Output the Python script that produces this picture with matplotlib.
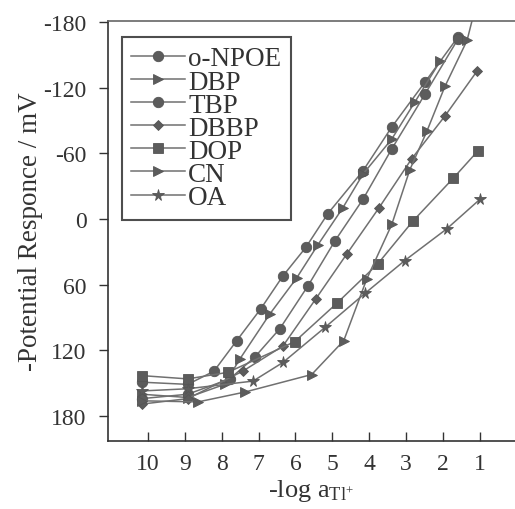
import matplotlib
matplotlib.use("Agg")
import matplotlib.pyplot as plt

plt.rcParams['font.family'] = ['Liberation Serif', 'DejaVu Serif']
plt.rcParams['mathtext.fontset'] = 'custom'
plt.rcParams['mathtext.rm'] = 'Liberation Serif'
plt.rcParams['mathtext.it'] = 'Liberation Serif:italic'
plt.rcParams['axes.unicode_minus'] = False

labels = ["o-NPOE", "DBP", "TBP", "DBBP", "DOP", "CN", "OA"]

x_onpoe = [10.16, 8.92, 8.21, 7.59, 6.94, 6.34, 5.72, 5.12, 4.17, 3.39, 2.49, 1.60]
y_onpoe = [149, 151, 139, 111, 82, 52, 26, -5, -44, -84, -125, -166]

x_dbp = [10.16, 8.92, 7.92, 7.51, 6.70, 5.97, 5.40, 4.72, 4.17, 3.39, 2.76, 2.08]
y_dbp = [160, 163, 151, 128, 87, 54, 24, -10, -41, -73, -107, -144]

x_tbp = [10.16, 8.92, 7.78, 7.10, 6.42, 5.66, 4.93, 4.17, 3.39, 2.49, 1.60]
y_tbp = [164, 160, 146, 126, 100, 61, 20, -18, -64, -114, -164]

x_dbbp = [10.16, 8.92, 7.43, 6.34, 5.45, 4.61, 3.74, 2.85, 1.95, 1.08]
y_dbbp = [169, 164, 139, 116, 73, 32, -10, -55, -94, -135]

x_dop = [10.16, 8.92, 7.83, 6.02, 4.88, 3.77, 2.82, 1.73, 1.06]
y_dop = [143, 146, 140, 112, 77, 41, 2, -37, -62]

x_cn = [10.16, 8.64, 7.37, 5.56, 4.69, 4.07, 3.39, 2.90, 2.44, 1.95, 1.35, 1.17]
y_cn = [166, 167, 158, 142, 111, 55, 5, -45, -80, -121, -163, -187]

x_oa = [10.16, 8.92, 7.15, 6.34, 5.20, 4.12, 3.04, 1.90, 1.00]
y_oa = [157, 155, 148, 131, 99, 68, 38, 9, -18]

series = [
    (x_onpoe, y_onpoe, 'o'),
    (x_dbp, y_dbp, '>'),
    (x_tbp, y_tbp, 'o'),
    (x_dbbp, y_dbbp, 'D'),
    (x_dop, y_dop, 's'),
    (x_cn, y_cn, '>'),
    (x_oa, y_oa, '*'),
]

x_ticks = [10, 9, 8, 7, 6, 5, 4, 3, 2, 1]
y_ticks = [-180, -120, -60, 0, 60, 120, 180]

fig = plt.figure(figsize=(5.15, 5.10), dpi=100)
ax = fig.add_axes([108/515, 1 - 442/510, 407/515, 420/510])

sizes = {'o': 7.5, '>': 7.5, 'D': 5.5, 's': 6.5, '*': 8.5}
for (xs, ys, m), lab in zip(series, labels):
    ax.plot(xs, ys, '-', color='#707070', lw=1.1, marker=m,
            markersize=sizes[m], markerfacecolor='#5c5c5c',
            markeredgecolor='#555555', markeredgewidth=0.6, label=lab)

ax.set_xlim(11.08, 0.05)
ax.set_ylim(202.7, -180.8)
ax.set_xticks(x_ticks)
ax.set_yticks(y_ticks)
ax.tick_params(axis='x', direction='in', length=6.5, width=1.0, labelsize=17, pad=9, colors='#333333')
ax.tick_params(axis='y', direction='out', length=6.5, width=1.0, labelsize=17, pad=9, colors='#333333')
ax.spines['right'].set_visible(False)
for s in ['left', 'bottom', 'top']:
    ax.spines[s].set_color('#333333')
    ax.spines[s].set_linewidth(1.2)
ax.spines['top'].set_color('#666666')

ax.set_ylabel('-Potential Responce / mV', fontsize=19.5, color='#333333', labelpad=0)
ax.set_xlabel(r'-log a$_{\rm Tl^{+}}$', fontsize=19, color='#333333', labelpad=2)

leg = ax.legend(loc='upper left', bbox_to_anchor=(0.034, 0.962), borderaxespad=0,
                fontsize=19.5, frameon=True, fancybox=False, handlelength=2.0,
                handletextpad=0.1, labelspacing=-0.07, borderpad=0.35)
leg.get_frame().set_edgecolor('#222222')
leg.get_frame().set_linewidth(1.5)
for t in leg.get_texts():
    t.set_color('#333333')

fig.savefig('out.png', dpi=100)
